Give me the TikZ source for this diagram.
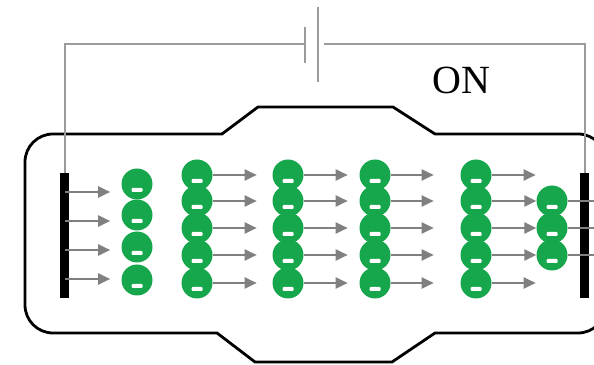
\documentclass[tikz,border=0pt]{standalone}
\usepackage{fontspec}
\setmainfont{Liberation Serif}
\usetikzlibrary{arrows.meta}
\definecolor{egreen}{RGB}{22,166,76}
\definecolor{wiregray}{RGB}{155,155,155}
\definecolor{flowgray}{RGB}{128,128,128}
\tikzset{
	electron/.style={circle, fill=egreen, minimum size=31pt, inner sep=0pt,
		path picture={\fill[white, rounded corners=1pt]([xshift=-5.5pt,yshift=-8pt]path picture bounding box.center)rectangle++(11pt,4pt);}},
	flow/.style={draw=flowgray, line width=2.4pt, -{Triangle[length=12pt,width=11pt]}},
	wire/.style={draw=wiregray, line width=2pt},
	plate/.style={fill=black, minimum width=9pt, minimum height=125pt, inner sep=0pt},
}

\begin{document}
\begin{tikzpicture}[x=1pt,y=1pt]
\clip(0,0)rectangle(594,364);
% cell wall
\draw[line width=2.8pt](25,202)arc(180:90:28)--(222,230)--(258,257)--(393,257)--(435,230)--(578,230)arc(90:0:28)
	--(606,59)arc(0:-90:28)--(435,31)--(392,2)--(255,2)--(217,31)--(53,31)arc(270:180:28)--cycle;

% electrodes and battery
\path(64.5,128.5)node[plate](cath){}(584.5,128.5)node[plate](anod){}
	(305,320)coordinate(bneg)(324,320)coordinate(bpos);
\draw[wire](305,301)--(305,337)(318,282)--(318,357)
	(bneg)-|(cath.north)
	(bpos)-|(anod.north);
\node[font=\fontsize{40}{40}\selectfont](on)at(461.5,284){ON};

% electrons
\path(137,180)node[electron](e11){}(137,149)node[electron](e12){}(137,117)node[electron](e13){}(137,84)node[electron](e14){}
	(197,189)node[electron](e21){}(197,163)node[electron](e22){}(197,136)node[electron](e23){}(197,109)node[electron](e24){}(197,81)node[electron](e25){}
	(288,189)node[electron](e31){}(288,163)node[electron](e32){}(288,136)node[electron](e33){}(288,109)node[electron](e34){}(288,81)node[electron](e35){}
	(375,189)node[electron](e41){}(375,163)node[electron](e42){}(375,136)node[electron](e43){}(375,109)node[electron](e44){}(375,81)node[electron](e45){}
	(476,189)node[electron](e51){}(476,163)node[electron](e52){}(476,136)node[electron](e53){}(476,109)node[electron](e54){}(476,81)node[electron](e55){}
	(552,163)node[electron](e62){}(552,136)node[electron](e63){}(552,109)node[electron](e64){};

% drift
\draw[flow]([xshift=-4pt,yshift=43.5pt]cath.east)--++(45,0);
\draw[flow]([xshift=-4pt,yshift=14.5pt]cath.east)--++(45,0);
\draw[flow]([xshift=-4pt,yshift=-14.5pt]cath.east)--++(45,0);
\draw[flow]([xshift=-4pt,yshift=-43.5pt]cath.east)--++(45,0);
\draw[flow](e21.east)--++(44,0);\draw[flow](e22.east)--++(44,0);\draw[flow](e23.east)--++(44,0);\draw[flow](e24.east)--++(44,0);\draw[flow](e25.east)--++(44,0);
\draw[flow](e31.east)--++(44,0);\draw[flow](e32.east)--++(44,0);\draw[flow](e33.east)--++(44,0);\draw[flow](e34.east)--++(44,0);\draw[flow](e35.east)--++(44,0);
\draw[flow](e41.east)--++(43,0);\draw[flow](e42.east)--++(43,0);\draw[flow](e43.east)--++(43,0);\draw[flow](e44.east)--++(43,0);\draw[flow](e45.east)--++(43,0);
\draw[flow](e51.east)--++(44,0);\draw[flow](e52.east)--(e62.west);\draw[flow](e53.east)--(e63.west);\draw[flow](e54.east)--(e64.west);\draw[flow](e55.east)--++(44,0);
\draw[draw=flowgray, line width=2.4pt](e62.east)--++(40,0)(e63.east)--++(40,0)(e64.east)--++(40,0);
\end{tikzpicture}
\end{document}
